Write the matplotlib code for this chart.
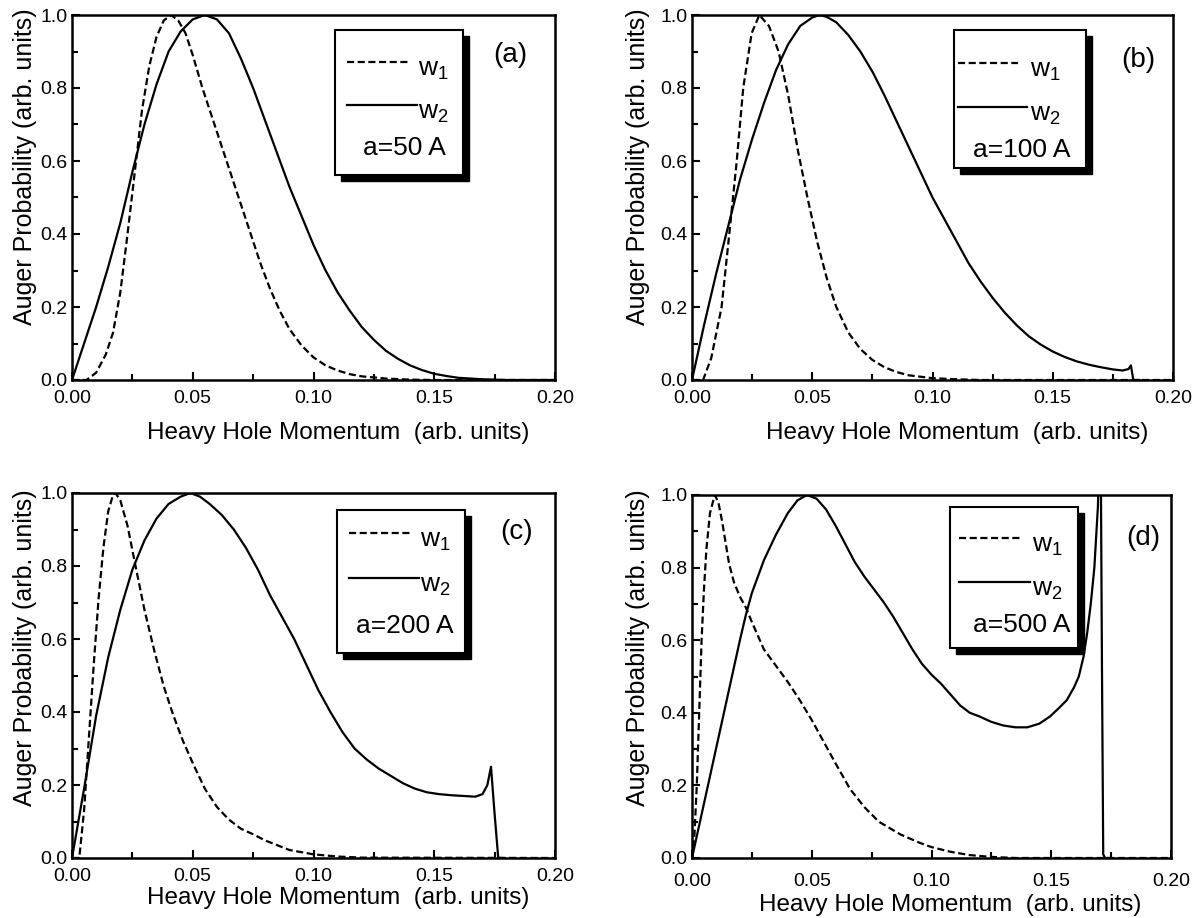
import numpy as np
import matplotlib
matplotlib.use("Agg")
import matplotlib.pyplot as plt
from matplotlib.patches import Rectangle
from matplotlib.ticker import MultipleLocator, FormatStrFormatter

plt.rcParams["font.family"] = ["Liberation Sans", "DejaVu Sans"]
plt.rcParams["mathtext.fontset"] = "custom"
plt.rcParams["mathtext.rm"] = "Liberation Sans"
plt.rcParams["mathtext.default"] = "regular"

# ---- data (x = heavy hole momentum, y = Auger probability)
A_W1_X = [0.000, 0.006, 0.010, 0.014, 0.017, 0.020, 0.023, 0.026, 0.029, 0.032, 0.035, 0.038,
          0.041, 0.044, 0.047, 0.050, 0.054, 0.058, 0.062, 0.066, 0.070, 0.074, 0.078, 0.082,
          0.086, 0.090, 0.095, 0.100, 0.105, 0.110, 0.115, 0.120, 0.130, 0.140, 0.150, 0.200]
A_W1_Y = [0.0, 0.0, 0.02, 0.07, 0.13, 0.24, 0.40, 0.57, 0.74, 0.86, 0.94, 0.985,
          1.0, 0.985, 0.95, 0.89, 0.80, 0.72, 0.64, 0.56, 0.48, 0.40, 0.32, 0.25,
          0.19, 0.14, 0.095, 0.062, 0.04, 0.026, 0.016, 0.01, 0.004, 0.001, 0.0, 0.0]
A_W2_X = [0.000, 0.005, 0.010, 0.015, 0.020, 0.025, 0.030, 0.035, 0.040, 0.045, 0.050, 0.055,
          0.060, 0.065, 0.070, 0.075, 0.080, 0.085, 0.090, 0.095, 0.100, 0.105, 0.110, 0.115,
          0.120, 0.125, 0.130, 0.135, 0.140, 0.145, 0.150, 0.155, 0.160, 0.170, 0.180, 0.200]
A_W2_Y = [0.0, 0.10, 0.20, 0.31, 0.43, 0.57, 0.70, 0.81, 0.90, 0.955, 0.988, 1.0,
          0.988, 0.95, 0.88, 0.80, 0.71, 0.62, 0.53, 0.45, 0.37, 0.30, 0.24, 0.19,
          0.145, 0.11, 0.08, 0.058, 0.04, 0.027, 0.017, 0.011, 0.006, 0.002, 0.0, 0.0]

B_W1_X = [0.000, 0.0046, 0.008, 0.0123, 0.0155, 0.0186, 0.0213, 0.0248, 0.028, 0.032, 0.036,
          0.040, 0.044, 0.048, 0.052, 0.056, 0.060, 0.065, 0.070, 0.075, 0.080, 0.085, 0.090,
          0.100, 0.110, 0.120, 0.200]
B_W1_Y = [0.0, 0.0, 0.06, 0.2, 0.4, 0.6, 0.8, 0.95, 1.0, 0.97, 0.90,
          0.78, 0.63, 0.50, 0.38, 0.28, 0.20, 0.13, 0.085, 0.055, 0.035, 0.022, 0.013,
          0.005, 0.002, 0.0, 0.0]
B_W2_X = [0.000, 0.005, 0.010, 0.015, 0.020, 0.025, 0.030, 0.035, 0.040, 0.045, 0.050, 0.053,
          0.056, 0.060, 0.065, 0.070, 0.075, 0.080, 0.085, 0.090, 0.095, 0.100, 0.105, 0.110,
          0.115, 0.120, 0.125, 0.130, 0.135, 0.140, 0.145, 0.150, 0.155, 0.160, 0.165, 0.170,
          0.175, 0.179, 0.1815, 0.1825, 0.1835, 0.186]
B_W2_Y = [0.0, 0.15, 0.29, 0.42, 0.55, 0.66, 0.76, 0.85, 0.92, 0.97, 0.993, 1.0,
          0.995, 0.98, 0.945, 0.90, 0.845, 0.78, 0.71, 0.64, 0.57, 0.50, 0.44, 0.38,
          0.32, 0.27, 0.225, 0.185, 0.15, 0.12, 0.097, 0.078, 0.063, 0.051, 0.042, 0.035,
          0.029, 0.026, 0.03, 0.04, 0.0, 0.0]

C_W1_X = [0.000, 0.003, 0.005, 0.007, 0.009, 0.011, 0.013, 0.015, 0.017, 0.018, 0.020, 0.023,
          0.026, 0.030, 0.034, 0.038, 0.042, 0.046, 0.050, 0.055, 0.060, 0.065, 0.070, 0.075,
          0.080, 0.090, 0.100, 0.110, 0.120, 0.200]
C_W1_Y = [0.0, 0.0, 0.13, 0.33, 0.53, 0.71, 0.85, 0.95, 0.995, 1.0, 0.98, 0.91,
          0.81, 0.68, 0.57, 0.47, 0.39, 0.32, 0.26, 0.19, 0.14, 0.105, 0.08, 0.065,
          0.048, 0.022, 0.01, 0.004, 0.001, 0.0]
C_W2_X = [0.000, 0.005, 0.010, 0.015, 0.020, 0.025, 0.030, 0.035, 0.040, 0.045, 0.049, 0.053,
          0.057, 0.062, 0.067, 0.072, 0.077, 0.082, 0.087, 0.092, 0.097, 0.102, 0.107, 0.112,
          0.117, 0.122, 0.127, 0.132, 0.137, 0.142, 0.147, 0.152, 0.157, 0.162, 0.167, 0.170,
          0.172, 0.1735, 0.175, 0.1765, 0.178]
C_W2_Y = [0.0, 0.19, 0.39, 0.55, 0.68, 0.79, 0.87, 0.93, 0.97, 0.99, 1.0, 0.99,
          0.97, 0.94, 0.90, 0.85, 0.79, 0.72, 0.66, 0.60, 0.53, 0.46, 0.40, 0.345,
          0.30, 0.27, 0.245, 0.225, 0.205, 0.19, 0.18, 0.175, 0.172, 0.17, 0.168, 0.175,
          0.20, 0.25, 0.12, 0.0, 0.0]

D_W1_X = [0.000, 0.001, 0.002, 0.003, 0.004, 0.005, 0.006, 0.0075, 0.0095, 0.011, 0.0125,
          0.014, 0.0155, 0.0175, 0.020, 0.0225, 0.025, 0.027, 0.030, 0.035, 0.040, 0.045,
          0.050, 0.055, 0.060, 0.066, 0.072, 0.078, 0.087, 0.095, 0.100, 0.108, 0.116,
          0.125, 0.135, 0.200]
D_W1_Y = [0.0, 0.06, 0.2, 0.4, 0.6, 0.74, 0.85, 0.95, 1.0, 0.98, 0.93,
          0.87, 0.81, 0.76, 0.72, 0.69, 0.65, 0.62, 0.575, 0.53, 0.485, 0.435,
          0.38, 0.32, 0.26, 0.19, 0.14, 0.10, 0.065, 0.042, 0.03, 0.017, 0.008,
          0.003, 0.0, 0.0]
D_W2_X = [0.000, 0.005, 0.010, 0.015, 0.020, 0.0225, 0.025, 0.030, 0.035, 0.040, 0.044, 0.048,
          0.052, 0.056, 0.060, 0.064, 0.068, 0.072, 0.076, 0.080, 0.084, 0.088, 0.092, 0.096,
          0.100, 0.104, 0.108, 0.112, 0.116, 0.120, 0.125, 0.130, 0.135, 0.140, 0.145, 0.1495,
          0.1535, 0.1565, 0.1595, 0.1615, 0.1635, 0.165, 0.1665, 0.168, 0.1695, 0.1705, 0.1712,
          0.1717, 0.1725, 0.1745]
D_W2_Y = [0.0, 0.15, 0.30, 0.45, 0.60, 0.67, 0.73, 0.82, 0.89, 0.95, 0.985, 1.0,
          0.99, 0.96, 0.915, 0.865, 0.815, 0.775, 0.74, 0.705, 0.665, 0.62, 0.575, 0.535,
          0.505, 0.48, 0.45, 0.42, 0.40, 0.39, 0.375, 0.365, 0.36, 0.36, 0.37, 0.39,
          0.415, 0.435, 0.47, 0.50, 0.555, 0.62, 0.70, 0.80, 0.97, 1.3, 0.5,
          0.01, 0.0, 0.0]

PANEL_LETTERS = ["(a)", "(b)", "(c)", "(d)"]
SIZE_LABELS = ["a=50 A", "a=100 A", "a=200 A", "a=500 A"]
SERIES = [(A_W1_X, A_W1_Y, A_W2_X, A_W2_Y),
          (B_W1_X, B_W1_Y, B_W2_X, B_W2_Y),
          (C_W1_X, C_W1_Y, C_W2_X, C_W2_Y),
          (D_W1_X, D_W1_Y, D_W2_X, D_W2_Y)]

# ---- layout in figure pixels
FIG_W, FIG_H = 1200, 918
AXES_PX = [(72, 15, 555, 380), (692, 15, 1173, 380),
           (72, 493, 555, 858), (692, 495, 1171, 858)]        # left, top, right, bottom
YLABEL_PX = [(37, 167), (650, 167), (37, 648), (650, 648)]   # right edge, centre
XLABEL_PX = [(338, 422), (957, 422), (338, 887), (950, 894)]  # centre, top
XTICK_PAD = [7.5, 7.5, 7.5, 11]
# box l, t, r, b | dash x0, x1 | solid x1 | line y1, y2 | text x | size x, size baseline
LEGEND_PX = [(335, 30, 463, 175, 347, 408, 417, 62, 105, 418, 363, 155),
             (954, 30, 1086, 168, 958, 1018, 1027, 63, 107, 1030, 973, 157),
             (337, 510, 465, 653, 349, 410, 419, 533, 578, 420, 356, 633),
             (950, 507, 1078, 648, 959, 1021, 1030, 538, 582, 1032, 973, 632)]
LETTER_PX = [(510, 55), (1138, 60), (517, 532), (1143, 538)]

DASHES = (3.2, 1.6)
LEGEND_FS = 19

fig = plt.figure(figsize=(FIG_W / 100, FIG_H / 100), dpi=100)

for i, (l, t, r, b) in enumerate(AXES_PX):
    ax = fig.add_axes([l / FIG_W, 1 - b / FIG_H, (r - l) / FIG_W, (b - t) / FIG_H])

    def fx(px):
        return (px - l) / (r - l)

    def fy(py):
        return (b - py) / (b - t)

    w1x, w1y, w2x, w2y = SERIES[i]
    ax.plot(w1x, w1y, color="black", lw=1.6, dashes=DASHES)
    ax.plot(w2x, w2y, color="black", lw=1.6)
    ax.set_xlim(0, 0.2)
    ax.set_ylim(0, 1.0)
    ax.xaxis.set_major_locator(MultipleLocator(0.05))
    ax.xaxis.set_minor_locator(MultipleLocator(0.025))
    ax.yaxis.set_major_locator(MultipleLocator(0.2))
    ax.yaxis.set_minor_locator(MultipleLocator(0.1))
    ax.xaxis.set_major_formatter(FormatStrFormatter("%.2f"))
    ax.yaxis.set_major_formatter(FormatStrFormatter("%.1f"))
    ax.tick_params(which="both", direction="in", top=False, right=False,
                   width=1.5, labelsize=14)
    ax.tick_params(axis="y", pad=3)
    ax.tick_params(axis="x", pad=XTICK_PAD[i])
    ax.tick_params(which="major", length=6)
    ax.tick_params(which="minor", length=4)
    for s in ax.spines.values():
        s.set_linewidth(1.8)
    ax.set_xlabel("Heavy Hole Momentum  (arb. units)", fontsize=17.5)
    ax.set_ylabel("Auger Probability (arb. units)", fontsize=18)
    xl_x, xl_y = XLABEL_PX[i]
    ax.xaxis.set_label_coords(fx(xl_x), fy(xl_y))
    yl_x, yl_y = YLABEL_PX[i]
    ax.yaxis.set_label_coords(fx(yl_x), fy(yl_y))

    bl, bt, br, bb, d0, d1, s1, ly1, ly2, tx, sx, sy = LEGEND_PX[i]
    sh = 6
    ax.add_patch(Rectangle((fx(bl + sh), fy(bb + sh)), fx(br) - fx(bl), fy(bt) - fy(bb),
                           transform=ax.transAxes, facecolor="black", edgecolor="black",
                           zorder=5, clip_on=False))
    ax.add_patch(Rectangle((fx(bl), fy(bb)), fx(br) - fx(bl), fy(bt) - fy(bb),
                           transform=ax.transAxes, facecolor="white", edgecolor="black",
                           lw=1.5, zorder=6, clip_on=False))
    ax.plot([fx(d0), fx(d1)], [fy(ly1), fy(ly1)], transform=ax.transAxes, color="black",
            lw=1.6, dashes=DASHES, zorder=7, clip_on=False)
    ax.plot([fx(d0), fx(s1)], [fy(ly2), fy(ly2)], transform=ax.transAxes, color="black",
            lw=1.6, zorder=7, clip_on=False)
    ax.text(fx(tx), fy(ly1 + 14), "w$_1$", transform=ax.transAxes, fontsize=LEGEND_FS,
            ha="left", va="baseline", zorder=8)
    ax.text(fx(tx), fy(ly2 + 14), "w$_2$", transform=ax.transAxes, fontsize=LEGEND_FS,
            ha="left", va="baseline", zorder=8)
    ax.text(fx(sx), fy(sy), SIZE_LABELS[i], transform=ax.transAxes, fontsize=LEGEND_FS,
            ha="left", va="baseline", zorder=8)
    lx, lyy = LETTER_PX[i]
    ax.text(fx(lx), fy(lyy), PANEL_LETTERS[i], transform=ax.transAxes, fontsize=20,
            ha="center", va="center")

fig.savefig("out.png", dpi=100)
